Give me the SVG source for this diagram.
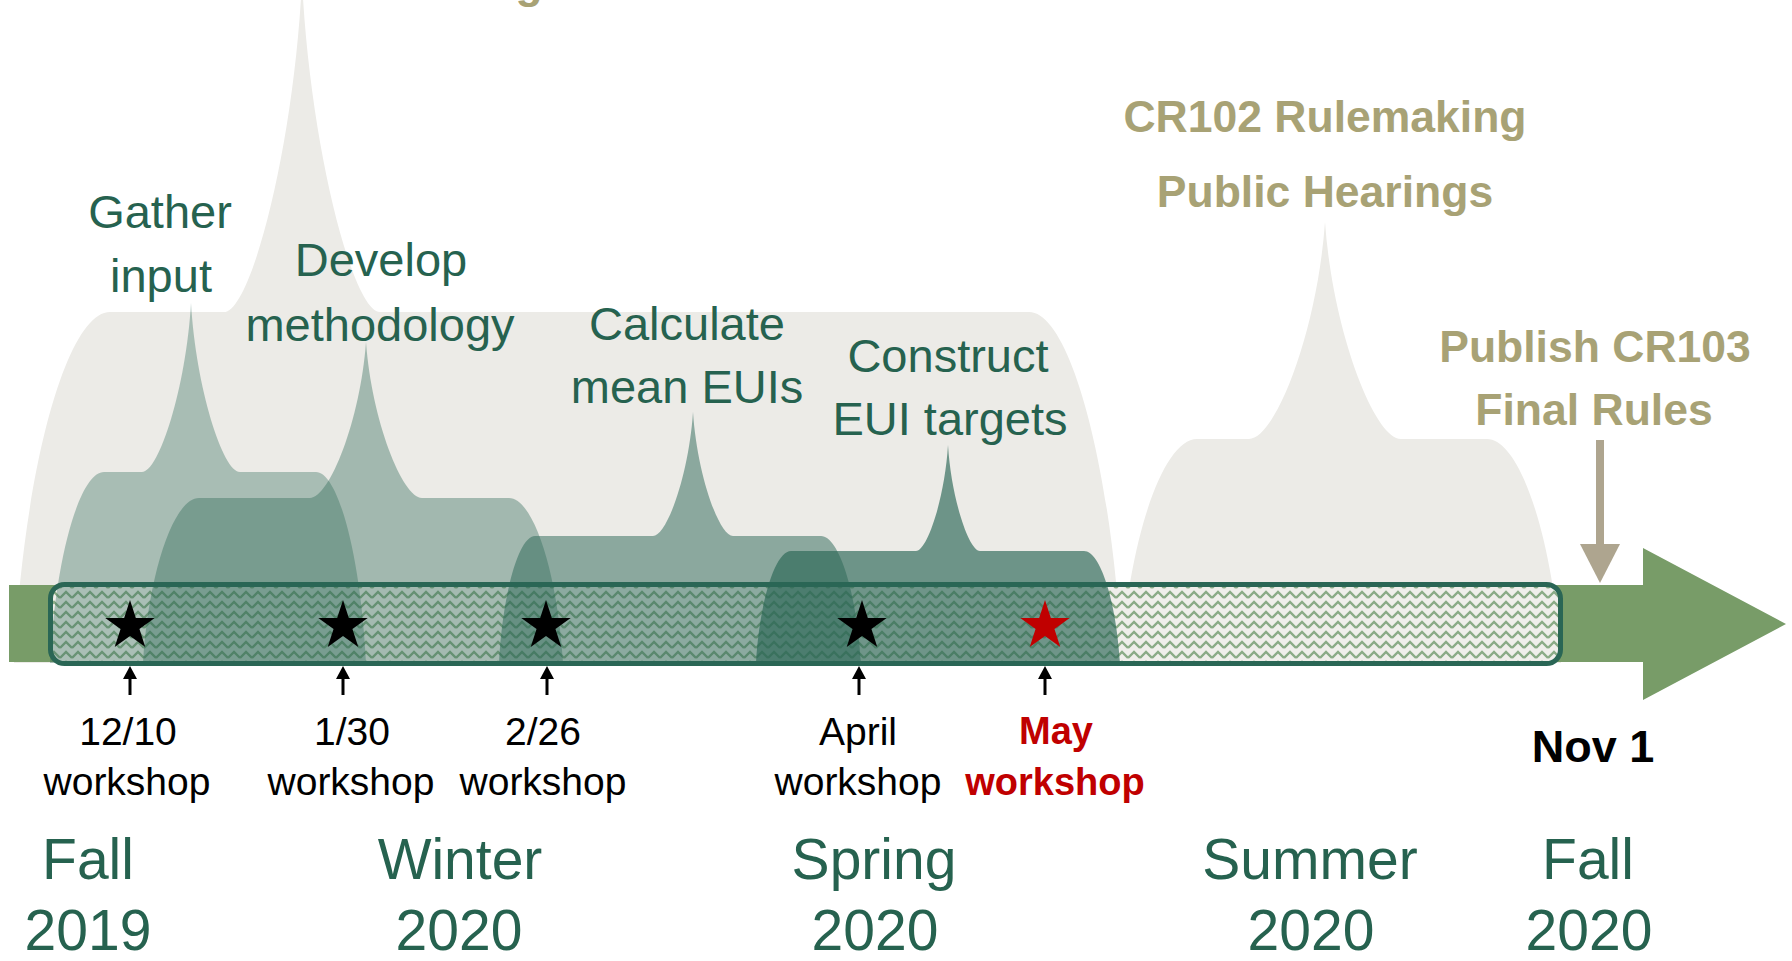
<svg xmlns="http://www.w3.org/2000/svg" xmlns:xlink="http://www.w3.org/1999/xlink" width="1792" height="961" viewBox="0 0 1792 961">
<style>
text{font-family:"Liberation Sans",Arial,sans-serif;text-anchor:middle}
.gl{fill:#26624f;font-size:47px}
.ss{fill:#26624f;font-size:57px}
.tn{fill:#a8a275;font-size:44.5px;font-weight:bold}
.wk{fill:#000;font-size:39px}
.wr{fill:#c00000;font-size:38px;font-weight:bold}
.nv{fill:#000;font-size:45px;font-weight:bold}
.gray{fill:#ecebe7}
.teal{fill:#2a6655}
</style>
<defs>
<pattern id="weave" width="12" height="10" patternUnits="userSpaceOnUse">
<path d="M0,8 L6,2 L12,8" fill="none" stroke="#8aab86" stroke-width="2.4"/>
</pattern>
<path id="star" d="M0,-26 L5.84,-8.03 L24.73,-8.03 L9.44,3.07 L15.28,21.03 L0,9.93 L-15.28,21.03 L-9.44,3.07 L-24.73,-8.03 L-5.84,-8.03Z"/>
<g id="uparrow">
<line x1="0" y1="695" x2="0" y2="676" stroke="#000" stroke-width="3"/>
<path d="M-7,679 L0,666 L7,679 Z" fill="#000"/>
</g>
</defs>

<rect width="1792" height="961" fill="#fff"/>

<g id="callout-cr101">
<path class="gray" d="M14,663 C23.6,470 66.8,312 110,312 L224,312 C251,312 294.2,146 302,-20 C309.8,146 353,312 380,312 L1029,312 C1070.85,312 1112.7,470 1122,663 Z"/>
<text class="tn" x="529" y="-2">g</text>
</g>

<g id="callout-cr102">
<path class="gray" d="M1121,663 C1128.6,539.8 1162.8,439 1197,439 L1249,439 C1275.6,439 1317.4,330.5 1325,222 C1332.6,330.5 1374.4,439 1401,439 L1487,439 C1520.3,439 1553.6,539.8 1561,663 Z"/>
<text class="tn" x="1325" y="132">CR102 Rulemaking</text>
<text class="tn" x="1325" y="207">Public Hearings</text>
</g>

<g id="timeline-arrow">
<path d="M9,585 L1643,585 L1643,548 L1786,624 L1643,700 L1643,662 L9,662 Z" fill="#789c68"/>
</g>

<g id="timeline-bar">
<rect x="50.5" y="584.5" width="1510" height="79" rx="14" fill="#efeeea"/>
<rect x="50.5" y="584.5" width="1510" height="79" rx="14" fill="url(#weave)"/>
</g>

<g id="callout-gather">
<path class="teal" fill-opacity="0.35" d="M50,663 C55.4,558 79.7,472 104,472 L142,472 C159.15,472 186.1,387.5 191,303 C195.9,387.5 222.85,472 240,472 L316,472 C338.5,472 361,558 366,663 Z"/>
<text class="gl" x="160" y="228">Gather</text>
<text class="gl" x="161" y="292">input</text>
</g>

<g id="callout-develop">
<path class="teal" fill-opacity="0.38" d="M143,663 C148.6,572.25 173.8,498 199,498 L310,498 C329.6,498 360.4,420 366,342 C371.6,420 402.4,498 422,498 L509,498 C533.3,498 557.6,572.25 563,663 Z"/>
<text class="gl" x="381" y="276">Develop</text>
<text class="gl" x="380" y="341">methodology</text>
</g>

<g id="callout-calculate">
<path class="teal" fill-opacity="0.5" d="M499,663 C502.6,593.15 518.8,536 535,536 L653,536 C667,536 689,474 693,412 C697,474 719,536 733,536 L821,536 C839,536 857,593.15 861,663 Z"/>
<text class="gl" x="687" y="340">Calculate</text>
<text class="gl" x="687" y="403">mean EUIs</text>
</g>

<g id="callout-construct">
<path class="teal" fill-opacity="0.65" d="M756,663 C759.5,601.4 775.25,551 791,551 L916,551 C927.2,551 944.8,498 948,445 C951.2,498 968.8,551 980,551 L1084,551 C1100.2,551 1116.4,601.4 1120,663 Z"/>
<text class="gl" x="948" y="372">Construct</text>
<text class="gl" x="950" y="435">EUI targets</text>
</g>

<g id="timeline-outline">
<rect x="50.5" y="584.5" width="1510" height="79" rx="14" fill="none" stroke="#2a6655" stroke-width="5"/>
</g>

<g id="milestones">
<use xlink:href="#star" x="130" y="626" fill="#000"/>
<use xlink:href="#star" x="343" y="626" fill="#000"/>
<use xlink:href="#star" x="546" y="626" fill="#000"/>
<use xlink:href="#star" x="862" y="626" fill="#000"/>
<use xlink:href="#star" x="1045" y="626" fill="#c00000"/>
</g>

<g id="connectors">
<use xlink:href="#uparrow" x="130"/>
<use xlink:href="#uparrow" x="343"/>
<use xlink:href="#uparrow" x="547"/>
<use xlink:href="#uparrow" x="859"/>
<use xlink:href="#uparrow" x="1045"/>
<g id="publish-arrow" fill="#aea58f">
<rect x="1596" y="440" width="8" height="106"/>
<path d="M1580,544 L1620,544 L1600,583 Z"/>
</g>
</g>

<g id="publish-label">
<text class="tn" x="1595" y="362">Publish CR103</text>
<text class="tn" x="1594" y="425">Final Rules</text>
</g>

<g id="workshop-1210"><text class="wk" x="128" y="745">12/10</text><text class="wk" x="127" y="795">workshop</text></g>
<g id="workshop-130"><text class="wk" x="352" y="745">1/30</text><text class="wk" x="351" y="795">workshop</text></g>
<g id="workshop-226"><text class="wk" x="543" y="745">2/26</text><text class="wk" x="543" y="795">workshop</text></g>
<g id="workshop-april"><text class="wk" x="858" y="745">April</text><text class="wk" x="858" y="795">workshop</text></g>
<g id="workshop-may"><text class="wr" x="1056" y="744">May</text><text class="wr" x="1055" y="795">workshop</text></g>
<g id="nov1"><text class="nv" x="1593" y="762">Nov 1</text></g>

<g id="season-fall2019"><text class="ss" x="88" y="879">Fall</text><text class="ss" x="88" y="950">2019</text></g>
<g id="season-winter2020"><text class="ss" x="460" y="879">Winter</text><text class="ss" x="459" y="950">2020</text></g>
<g id="season-spring2020"><text class="ss" x="874" y="879">Spring</text><text class="ss" x="875" y="950">2020</text></g>
<g id="season-summer2020"><text class="ss" x="1310" y="879">Summer</text><text class="ss" x="1311" y="950">2020</text></g>
<g id="season-fall2020"><text class="ss" x="1588" y="879">Fall</text><text class="ss" x="1589" y="950">2020</text></g>
</svg>
